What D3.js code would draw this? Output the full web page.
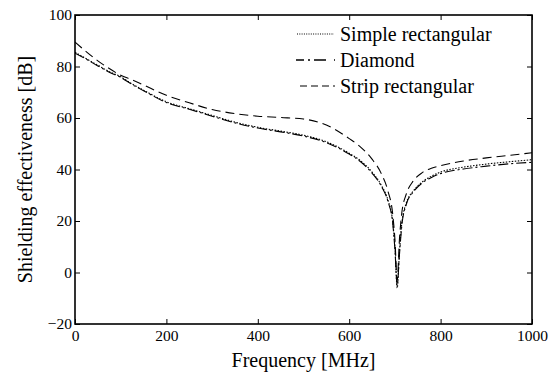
<!DOCTYPE html>
<html><head><meta charset="utf-8">
<script src="https://cdn.jsdelivr.net/npm/d3@7"></script>
<style>body{margin:0;background:#fff}svg{display:block}svg text{font-family:"Liberation Serif",Tinos,"Times New Roman","DejaVu Serif",serif !important;fill:#000}</style>
</head><body><svg id="c" width="554" height="373"></svg>
<script>
const freq = [0,25,50,75,100,125,150,200,250,300,350,400,450,500,550,600,625,650,670,685,695,700,705,710,715,725,740,760,780,800,850,900,950,1000];
const simpleRect = [85.5,83,80.5,78,76,73.2,70.8,66.3,63.6,61,58.4,56.4,54.9,53.3,50.8,46.3,43.4,39,34,28,20,10,-6,8,19,27,31.6,35.2,37.4,39,40.9,42.1,43,43.8];
const diamond = [85.2,82.8,80.2,77.8,75.8,73,70.6,66,63.4,60.7,58.1,56.1,54.6,53,50.4,46,43,38.6,33.6,27.5,19.5,9,-5,7,18,26.5,31.2,34.8,36.9,38.4,40.2,41.3,42.2,42.8];
const stripRect = [89.5,85.7,82.2,79.2,76.6,74.8,72.8,68.8,65.9,63.3,61.7,60.7,60.2,59.6,57.3,52,48.7,44,38.5,31.5,23,13,-3,13,23,30.5,35.5,38.8,40.5,41.5,43.3,44.5,45.5,46.5];
const xTicks = [0,200,400,600,800,1000];
const yTicks = [-20,0,20,40,60,80,100];
const seriesNames = ["Simple rectangular","Diamond","Strip rectangular"];

const FONT = '"Liberation Serif", Tinos, "Times New Roman", "DejaVu Serif", serif';
const svg = d3.select("#c");
const L=75, R=532, T=15, B=324;
const x = d3.scaleLinear().domain([0,1000]).range([L,R]);
const y = d3.scaleLinear().domain([-20,100]).range([B,T]);

const series = [
  {name:seriesNames[0], vals:simpleRect, dash:"1.5,1.5"},
  {name:seriesNames[1], vals:diamond, dash:"10,3,2,3"},
  {name:seriesNames[2], vals:stripRect, dash:"9,5"}
];
const line = d3.line().x(d=>x(d[0])).y(d=>y(d[1])).curve(d3.curveMonotoneX);
svg.append("clipPath").attr("id","pc").append("rect").attr("x",L).attr("y",T).attr("width",R-L).attr("height",B-T);
series.forEach(s=>{
  svg.append("path").datum(freq.map((f,i)=>[f,s.vals[i]]))
    .attr("d",line).attr("fill","none").attr("stroke","#000").attr("stroke-width",1.1)
    .attr("stroke-dasharray",s.dash).attr("clip-path","url(#pc)");
});

const fmt = d3.format("d");
const ax = (g, axis)=>{ g.call(axis); g.attr("font-family",FONT); g.select(".domain").remove(); g.selectAll("line").attr("stroke","#000").attr("stroke-width",1); g.selectAll("text").style("font-size","15.5px").style("font-family",FONT); };
svg.append("g").attr("transform",`translate(0,${B})`).call(g=>ax(g,d3.axisBottom(x).tickValues(xTicks).tickFormat(fmt).tickSizeInner(-5).tickSizeOuter(0).tickPadding(6)));
svg.append("g").attr("transform",`translate(0,${T})`).call(g=>{ax(g,d3.axisTop(x).tickValues(xTicks).tickSizeInner(-5).tickSizeOuter(0)); g.selectAll("text").remove();});
svg.append("g").attr("transform",`translate(${L},0)`).call(g=>ax(g,d3.axisLeft(y).tickValues(yTicks).tickFormat(fmt).tickSizeInner(-5).tickSizeOuter(0).tickPadding(3)));
svg.append("g").attr("transform",`translate(${R},0)`).call(g=>{ax(g,d3.axisRight(y).tickValues(yTicks).tickSizeInner(-5).tickSizeOuter(0)); g.selectAll("text").remove();});
svg.append("rect").attr("x",L).attr("y",T).attr("width",R-L).attr("height",B-T).attr("fill","none").attr("stroke","#000").attr("stroke-width",1.6);

svg.append("text").attr("x",(L+R)/2).attr("y",367).attr("text-anchor","middle").style("font-family",FONT).style("font-size","20px").text("Frequency [MHz]");
svg.append("text").attr("transform",`translate(32,${(T+B)/2}) rotate(-90)`).attr("text-anchor","middle").style("font-family",FONT).style("font-size","20px").text("Shielding effectiveness [dB]");

const ly=[34,60,86], lx=[[297,334],[296,335],[300,335]];
series.forEach((s,i)=>{
  svg.append("line").attr("x1",lx[i][0]).attr("x2",lx[i][1]).attr("y1",ly[i]).attr("y2",ly[i])
    .attr("stroke","#000").attr("stroke-width",i===1?1.6:1.2).attr("stroke-dasharray", i===0?"1,1.3":(i===1?"8,4,2,4,12":"7,4"));
  svg.append("text").attr("x",340).attr("y",ly[i]+7).style("font-family",FONT).style("font-size","20px").text(s.name);
});
</script></body></html>
